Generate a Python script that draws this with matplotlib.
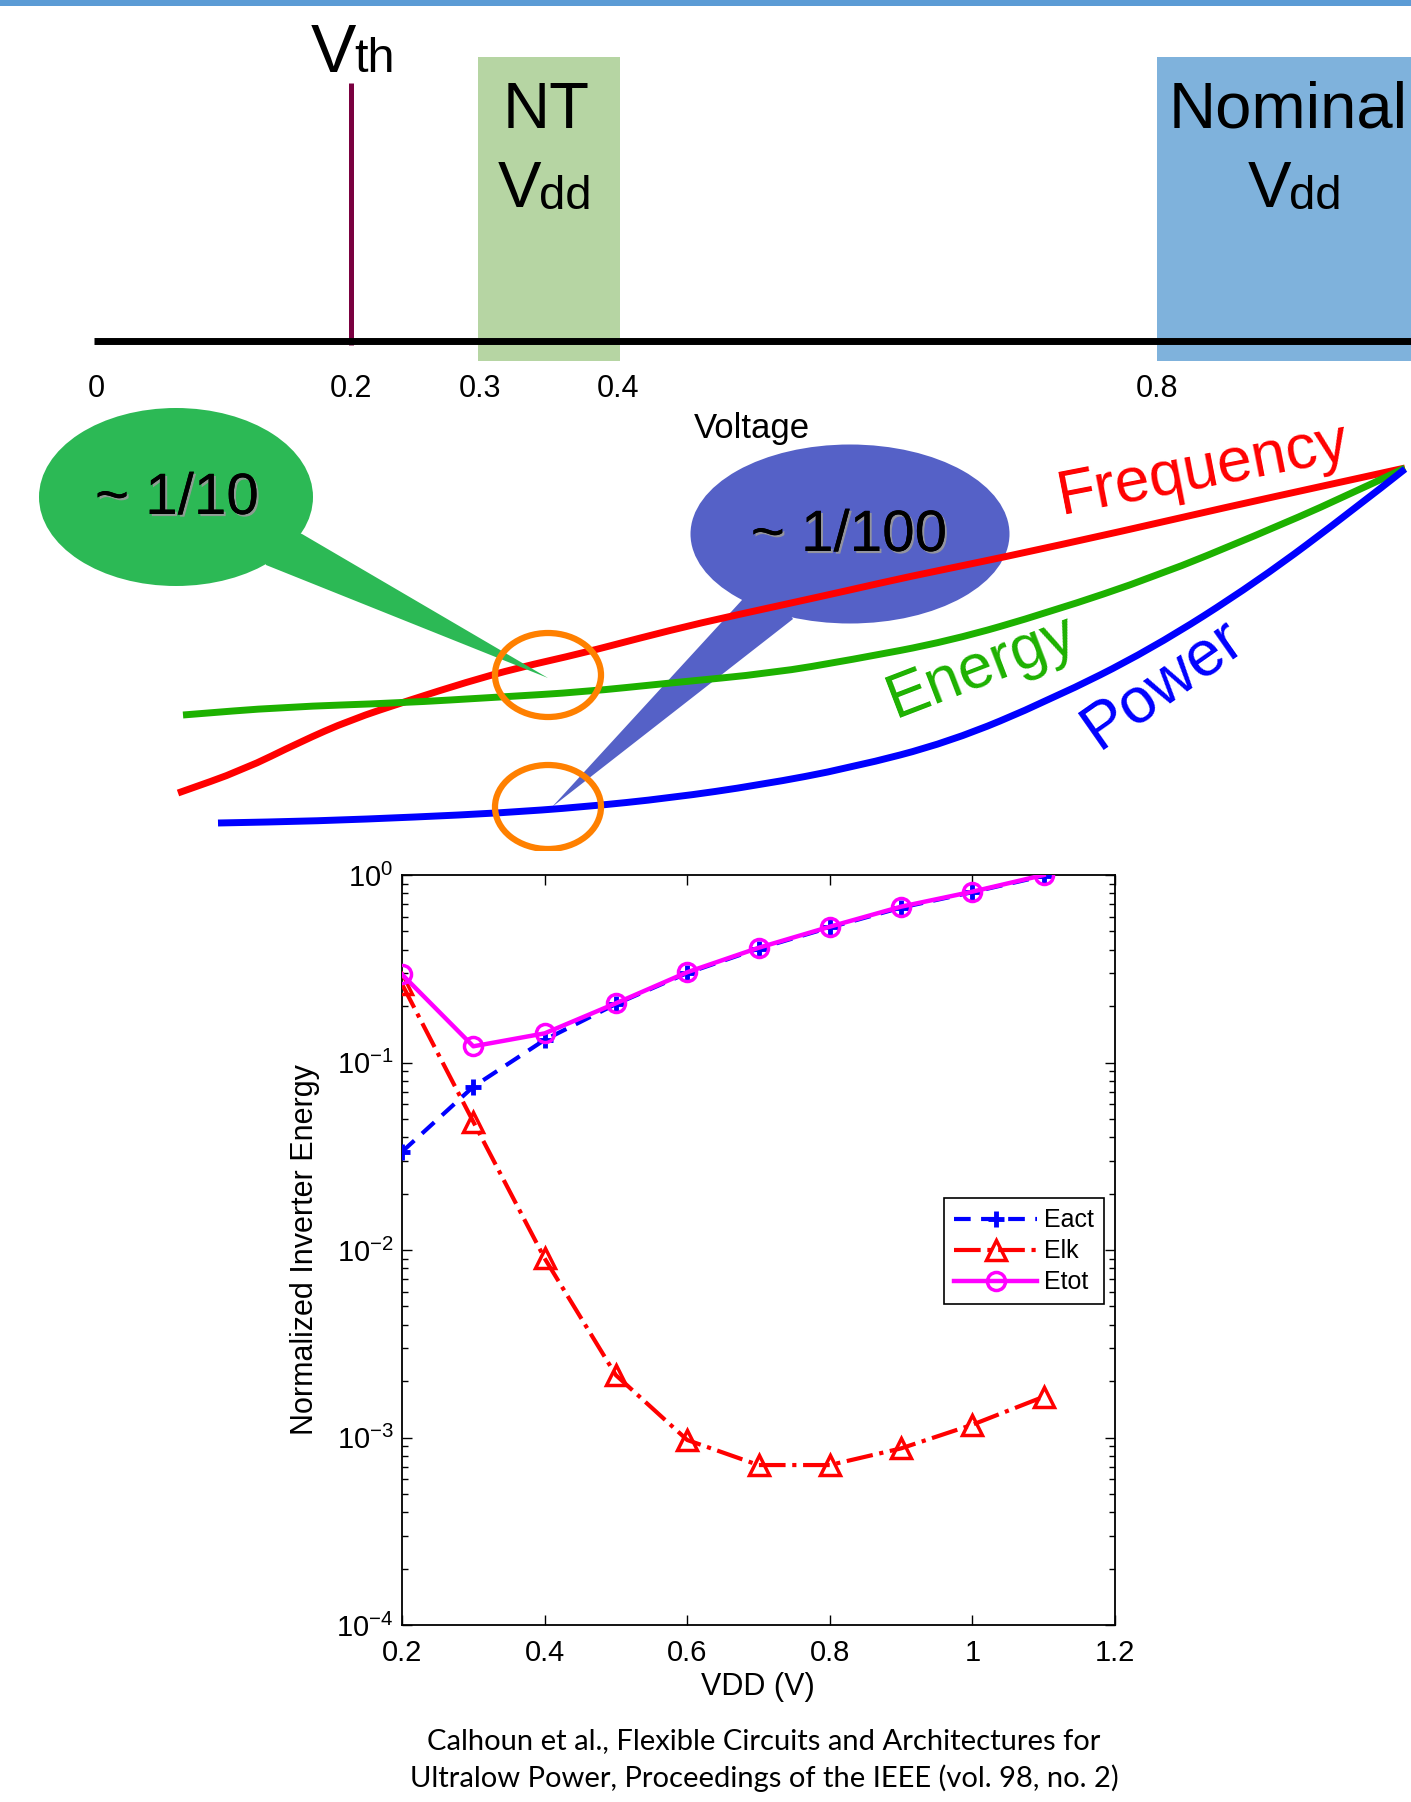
import numpy as np
import matplotlib
matplotlib.use('Agg')
import matplotlib.pyplot as plt
from matplotlib.patches import Ellipse, Polygon, Rectangle, PathPatch
from matplotlib.path import Path
import matplotlib.patheffects as pe
from matplotlib.ticker import LogLocator, NullFormatter

plt.rcParams['font.family'] = ['Liberation Sans', 'DejaVu Sans']
plt.rcParams['mathtext.fontset'] = 'custom'
plt.rcParams['mathtext.rm'] = 'Liberation Sans'
plt.rcParams['mathtext.it'] = 'Liberation Sans:italic'
plt.rcParams['mathtext.bf'] = 'Liberation Sans:bold'

# ---------------- data: measured inverter energy (bottom chart) ----------------
vdd = [0.2, 0.3, 0.4, 0.5, 0.6, 0.7, 0.8, 0.9, 1.0, 1.1]
e_act = [0.0334, 0.0743, 0.132, 0.205, 0.300, 0.405, 0.525, 0.670, 0.810, 0.99]
e_lk = [0.262, 0.0483, 0.00903, 0.00215, 0.00097, 0.000713, 0.000713, 0.000875, 0.00117, 0.00165]
e_tot = [0.295, 0.122, 0.143, 0.207, 0.303, 0.409, 0.530, 0.678, 0.815, 1.0]
series_labels = ['Eact', 'Elk', 'Etot']
x_ticks = [0.2, 0.4, 0.6, 0.8, 1.0, 1.2]
x_tick_labels = ['0.2', '0.4', '0.6', '0.8', '1', '1.2']
y_ticks = [1e-4, 1e-3, 1e-2, 1e-1, 1e0]
y_tick_labels = [r'$10^{-4}$', r'$10^{-3}$', r'$10^{-2}$', r'$10^{-1}$', r'$10^{0}$']

# ---------------- data: schematic (top) ----------------
scale_tick_labels = ['0', '0.2', '0.3', '0.4', '0.8']
freq_x = [178, 243, 300, 350, 410, 467, 517, 583, 640, 700, 773, 850, 907, 1000, 1123, 1223, 1323, 1405]
freq_y = [793, 770, 742, 720, 700, 682, 668, 653, 638, 623, 607, 590, 577, 558, 531, 508, 486, 468]
energy_x = [183, 283, 400, 500, 583, 670, 773, 850, 950, 1050, 1157, 1257, 1340, 1405]
energy_y = [715, 707, 703, 697, 692, 683, 673, 660, 641, 612, 576, 535, 499, 468]
power_x = [218, 317, 417, 500, 583, 670, 760, 850, 950, 1050, 1150, 1257, 1357, 1405]
power_y = [823, 821, 817, 813, 807, 798, 785, 768, 742, 700, 650, 582, 507, 469]
bubble_texts = ['~ 1/10', '~ 1/100']
curve_labels = ['Frequency', 'Energy', 'Power']
caption_lines = ['Calhoun et al., Flexible Circuits and Architectures for',
                 'Ultralow Power, Proceedings of the IEEE (vol. 98, no. 2)']


def smooth_path(xs, ys):
    """Quadratic Bezier path using the read points as control points."""
    pts = list(zip(xs, ys))
    verts = [pts[0]]
    codes = [Path.MOVETO]
    verts.append(((pts[0][0] + pts[1][0]) / 2, (pts[0][1] + pts[1][1]) / 2))
    codes.append(Path.LINETO)
    for i in range(1, len(pts) - 1):
        nxt = pts[i + 1]
        if i < len(pts) - 2:
            end = ((pts[i][0] + nxt[0]) / 2, (pts[i][1] + nxt[1]) / 2)
        else:
            end = nxt
        verts += [pts[i], end]
        codes += [Path.CURVE3, Path.CURVE3]
    return Path(verts, codes)


# ---------------- layout ----------------
W, H = 1411, 1802
fig = plt.figure(figsize=(W / 100, H / 100), dpi=100)
ax0 = fig.add_axes([0, 0, 1, 1])
ax0.set_xlim(0, W)
ax0.set_ylim(H, 0)
ax0.axis('off')

tick_pos = [96, 351, 480, 618, 1157]

# top banner
ax0.add_patch(Rectangle((0, 0), W, 6, color='#5b9bd5', lw=0))
# voltage regions
ax0.add_patch(Rectangle((478, 57), 142, 304, color='#b6d5a3', lw=0, zorder=1))
ax0.add_patch(Rectangle((1157, 57), 260, 304, color='#7fb2dc', lw=0, zorder=1))
# Vth marker
ax0.plot([351, 351], [83, 345], color='#7a0040', lw=3.6, zorder=2, solid_capstyle='butt')
# axis line
ax0.plot([94, W], [341, 341], color='black', lw=5, zorder=3, solid_capstyle='butt')

big = 47
sub = 34
ax0.text(356, 72, 'V', fontsize=big + 2, ha='right', va='baseline', zorder=4)
ax0.text(354, 72, 'th', fontsize=sub + 1, ha='left', va='baseline', zorder=4)
ax0.text(546, 128, 'NT', fontsize=big, ha='center', va='baseline', zorder=4)
ax0.text(541, 207, 'V', fontsize=big, ha='right', va='baseline', zorder=4)
ax0.text(539, 209, 'dd', fontsize=sub, ha='left', va='baseline', zorder=4)
ax0.text(1288, 128, 'Nominal', fontsize=big, ha='center', va='baseline', zorder=4)
ax0.text(1291, 207, 'V', fontsize=big, ha='right', va='baseline', zorder=4)
ax0.text(1289, 209, 'dd', fontsize=sub, ha='left', va='baseline', zorder=4)

for lbl, xp in zip(scale_tick_labels, tick_pos):
    ax0.text(xp, 397, lbl, fontsize=22, ha='center', va='baseline')
ax0.text(752, 438, 'Voltage', fontsize=25, ha='center', va='baseline')

# blue bubble (beneath curves)
blue_bub = '#5561c7'
ax0.add_patch(Ellipse((850, 534), 319, 179, color=blue_bub, lw=0, zorder=2))
ax0.add_patch(Polygon([(742, 600), (770, 585), (793, 619), (552, 807)], closed=True,
                      color=blue_bub, lw=0, zorder=2))

# curves
for xs, ys, col in [(freq_x, freq_y, '#ff0000'), (energy_x, energy_y, '#1db100'),
                    (power_x, power_y, '#0000ff')]:
    ax0.add_patch(PathPatch(smooth_path(xs, ys), fill=False, edgecolor=col, lw=5,
                            capstyle='butt', joinstyle='round', zorder=5))

ax0.text(1203, 470, curve_labels[0], fontsize=45, color='#ff0000', rotation=11,
         ha='center', va='center', zorder=6)
ax0.text(982, 667, curve_labels[1], fontsize=45, color='#1db100', rotation=21,
         ha='center', va='center', zorder=6)
ax0.text(1163, 684, curve_labels[2], fontsize=46, color='#0000ff', rotation=35,
         ha='center', va='center', zorder=6)

# green bubble (above curves)
green_bub = '#2cb955'
ax0.add_patch(Ellipse((176, 497), 274, 178, color=green_bub, lw=0, zorder=7))
ax0.add_patch(Polygon([(255, 520), (302, 534), (548, 678), (266, 565)], closed=True,
                      color=green_bub, lw=0, zorder=7))

shadow = [pe.withSimplePatchShadow(offset=(1.5, -1.5), shadow_rgbFace='#9a9a9a', alpha=0.9), pe.Normal()]
ax0.text(177, 499, bubble_texts[0], fontsize=42, ha='center', va='center', zorder=8, path_effects=shadow)
ax0.text(849, 536, bubble_texts[1], fontsize=42, ha='center', va='center', zorder=8, path_effects=shadow)

# orange circles
e1 = Ellipse((548, 675), 106, 84, fill=False, edgecolor='#ff8000', lw=4.5, zorder=9)
ax0.add_patch(e1)
e2 = Ellipse((548, 807), 106, 84, fill=False, edgecolor='#ff8000', lw=4.5, zorder=9)
ax0.add_patch(e2)
clip = Rectangle((0, 0), W, 851, transform=ax0.transData)
e2.set_clip_path(clip)

# caption
ax0.text(764, 1749, caption_lines[0], fontsize=21, family='Lato', ha='center', va='baseline')
ax0.text(764, 1787, caption_lines[1], fontsize=21, family='Lato', ha='center', va='baseline')

# ---------------- bottom log chart ----------------
ax = fig.add_axes([402 / W, 1 - 1625 / H, 713 / W, 750 / H])
ax.set_yscale('log')
ax.plot(vdd, e_act, color='#0000ff', ls='--', lw=3, marker='+', ms=12, mew=3.5,
        dashes=(4, 2.5), label=series_labels[0], zorder=3)
ax.plot(vdd, e_lk, color='#ff0000', ls='-.', lw=3, marker='^', ms=15, mew=2.5,
        mfc='none', label=series_labels[1], zorder=4)
ax.plot(vdd, e_tot, color='#ff00ff', ls='-', lw=3.2, marker='o', ms=13, mew=2.5,
        mfc='none', label=series_labels[2], zorder=5)
ax.set_xlim(0.2, 1.2)
ax.set_ylim(1e-4, 1)
ax.set_xticks(x_ticks)
ax.set_xticklabels(x_tick_labels)
ax.set_yticks(y_ticks)
ax.set_yticklabels(y_tick_labels)
ax.yaxis.set_minor_locator(LogLocator(base=10, subs=np.arange(2, 10)))
ax.yaxis.set_minor_formatter(NullFormatter())
ax.tick_params(which='both', direction='in', top=True, right=True, width=1.0)
ax.tick_params(which='major', length=7, labelsize=21)
ax.tick_params(which='minor', length=4)
ax.tick_params(axis='x', pad=10)
ax.tick_params(axis='y', pad=6)
for s in ax.spines.values():
    s.set_linewidth(1.3)

leg = ax.legend(loc='upper right', bbox_to_anchor=(0.985, 0.569), fontsize=18,
                handlelength=3.3, numpoints=1, fancybox=False, framealpha=1,
                edgecolor='black', borderpad=0.4, labelspacing=0.28, handletextpad=0.3,
                borderaxespad=0)
leg.get_frame().set_linewidth(1.2)

fig.text(305 / W, 1 - 1250 / H, 'Normalized Inverter Energy', rotation=90,
         ha='center', va='center', fontsize=22)
fig.text(758 / W, 1 - 1687 / H, 'VDD (V)', ha='center', va='center', fontsize=22)

fig.savefig('out.png', dpi=100)
